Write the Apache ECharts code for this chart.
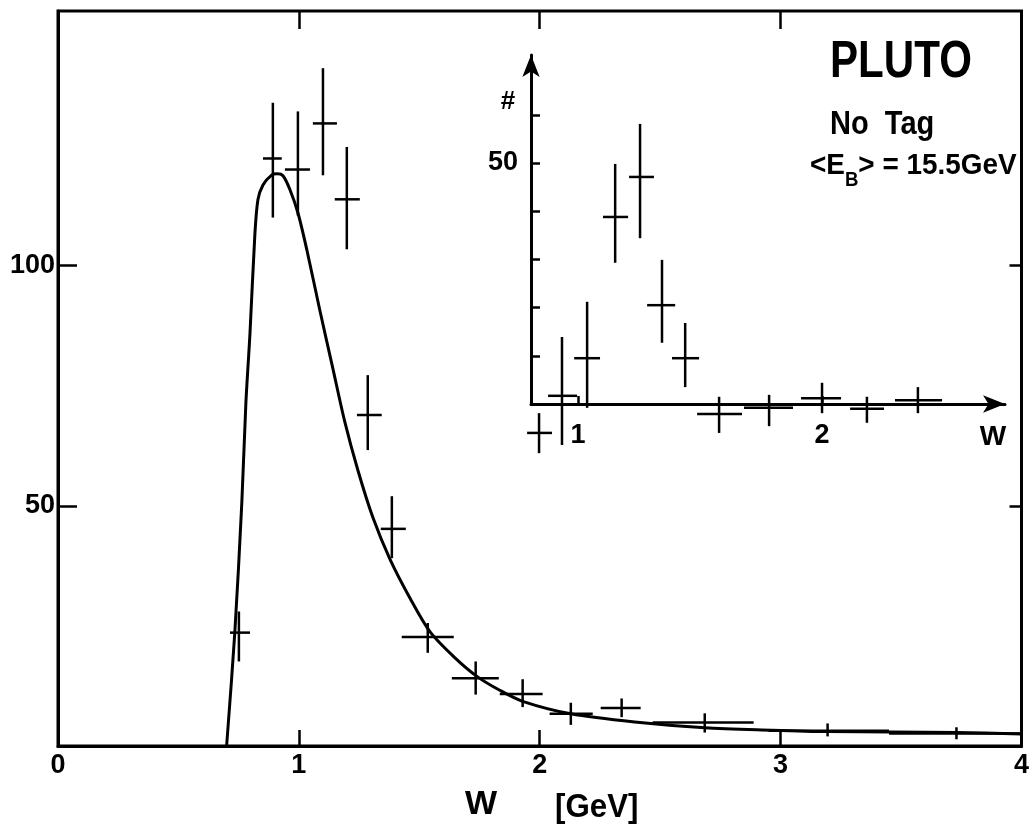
<!DOCTYPE html>
<html>
    <head>
        <meta charset="utf-8" />
        <script src="https://cdn.jsdelivr.net/npm/echarts@6/dist/echarts.min.js"></script>
        <style>
            body { margin: 0; background: #fff; }
        </style>
    </head>
    <body>
        <div id="main" style="width: 1032px; height: 831px"></div>
        <script type="text/javascript">
            // fitted curve (W in GeV, events)
            const curveW = [0.70, 0.734, 0.763, 0.780, 0.797, 0.817, 0.830, 0.851, 0.888, 0.909, 0.934, 0.963, 0.996, 1.033, 1.087, 1.141, 1.191, 1.245, 1.307, 1.378, 1.461, 1.544, 1.647, 1.739, 1.834, 1.929, 2.129, 2.394, 2.685, 2.963, 3.195, 3.730, 4.0];
            const curveN = [0, 23.6, 50.5, 71.4, 85.9, 106.2, 113.7, 116.8, 118.9, 119.1, 118.7, 115.8, 111.0, 103.3, 90.7, 78.6, 67.4, 57.4, 47.6, 38.9, 30.8, 23.8, 18.4, 14.5, 11.6, 9.3, 6.7, 5.0, 3.8, 3.3, 3.0, 2.8, 2.5];

            // main data points with bin width and errors
            const mainW = [0.751, 0.892, 0.996, 1.100, 1.199, 1.286, 1.386, 1.535, 1.734, 1.929, 2.129, 2.340, 2.685, 3.195, 3.730];
            const mainWLo = [0.714, 0.851, 0.942, 1.058, 1.149, 1.241, 1.340, 1.427, 1.635, 1.834, 2.041, 2.253, 2.469, 2.95, 3.45];
            const mainWHi = [0.797, 0.929, 1.046, 1.158, 1.253, 1.344, 1.444, 1.643, 1.830, 2.012, 2.220, 2.419, 2.888, 3.45, 4.0];
            const mainN = [23.6, 122.3, 120.0, 129.6, 113.8, 68.9, 45.2, 22.7, 14.1, 10.8, 6.7, 7.9, 4.9, 3.2, 2.6];
            const mainNLo = [17.6, 110.0, 110.4, 118.8, 103.4, 61.6, 39.1, 19.4, 10.7, 8.1, 4.4, 6.0, 2.8, 2.0, 1.4];
            const mainNHi = [28.0, 133.9, 132.1, 141.1, 124.7, 77.2, 52.0, 25.6, 17.6, 13.9, 9.0, 9.9, 6.8, 4.7, 3.9];

            // inset data points
            const insetW = [0.840, 0.934, 1.037, 1.152, 1.254, 1.344, 1.439, 1.578, 1.783, 2.000, 2.184, 2.393];
            const insetWLo = [0.791, 0.877, 0.984, 1.102, 1.209, 1.283, 1.385, 1.488, 1.680, 1.914, 2.115, 2.299];
            const insetWHi = [0.893, 0.996, 1.090, 1.205, 1.311, 1.398, 1.496, 1.672, 1.881, 2.078, 2.254, 2.492];
            const insetN = [-6.0, 1.7, 9.5, 38.8, 47.1, 20.5, 9.5, -2.1, -0.8, 1.2, -1.0, 0.8];
            const insetNLo = [-10.2, -8.5, -0.8, 29.3, 34.4, 12.7, 3.5, -6.0, -4.6, -1.9, -3.9, -1.9];
            const insetNHi = [-1.9, 13.9, 21.2, 49.8, 58.1, 29.9, 16.8, 1.5, 1.9, 4.4, 1.5, 3.5];

            const mainTicksX = [0, 1, 2, 3, 4];
            const mainTicksY = [50, 100];
            const insetTicksX = [1, 2];
            const insetTicksY = [10, 20, 30, 40, 50, 60];
            const insetLabelsY = [50];

            const font = "Liberation Sans";
            const black = "#000";

            var myChart = echarts.init(document.getElementById("main"));

            function errorBars(params, api) {
                const l = api.coord([api.value(2), api.value(1)]);
                const r = api.coord([api.value(3), api.value(1)]);
                const b = api.coord([api.value(0), api.value(4)]);
                const t = api.coord([api.value(0), api.value(5)]);
                const st = { stroke: black, lineWidth: 2.5 };
                return {
                    type: "group",
                    children: [
                        { type: "line", shape: { x1: l[0], y1: l[1], x2: r[0], y2: r[1] }, style: st },
                        { type: "line", shape: { x1: b[0], y1: b[1], x2: t[0], y2: t[1] }, style: st },
                    ],
                };
            }

            const mainData = mainW.map((w, i) => [w, mainN[i], mainWLo[i], mainWHi[i], mainNLo[i], mainNHi[i]]);
            const insetData = insetW.map((w, i) => [w, insetN[i], insetWLo[i], insetWHi[i], insetNLo[i], insetNHi[i]]);
            const curveData = curveW.map((w, i) => [w, curveN[i]]);

            const tickStyle = { color: black, width: 2.5 };
            const labelStyle = { color: black, fontFamily: font, fontWeight: "bold", fontSize: 27 };

            myChart.setOption({
                animation: false,
                backgroundColor: "#fff",
                grid: [
                    { left: 58, top: 11, width: 964, height: 735, show: true, borderColor: black, borderWidth: 3 },
                    { left: 531, top: 55, width: 474, height: 349 },
                ],
                xAxis: [
                    {
                        type: "value", gridIndex: 0, min: 0, max: 4, interval: 1,
                        axisLine: { onZero: false, lineStyle: { color: black, width: 3 } },
                        axisTick: { inside: true, length: 16, lineStyle: tickStyle, customValues: mainTicksX },
                        axisLabel: Object.assign({ margin: 6, customValues: mainTicksX }, labelStyle),
                        splitLine: { show: false },
                    },
                    {
                        type: "value", gridIndex: 0, position: "top", min: 0, max: 4, interval: 1,
                        axisLine: { show: false, onZero: false },
                        axisTick: { inside: true, length: 18, lineStyle: tickStyle, customValues: [1, 2, 3] },
                        axisLabel: { show: false },
                        splitLine: { show: false },
                    },
                    {
                        type: "value", gridIndex: 1, min: 0.807, max: 2.75,
                        axisLine: { onZero: false, symbol: ["none", "arrow"], symbolSize: [13, 22], lineStyle: { color: black, width: 3 } },
                        axisTick: { inside: true, length: 8, lineStyle: tickStyle, customValues: insetTicksX },
                        axisLabel: Object.assign({ margin: 18, customValues: insetTicksX }, labelStyle),
                        splitLine: { show: false },
                    },
                ],
                yAxis: [
                    {
                        type: "value", gridIndex: 0, min: 0, max: 153, interval: 50,
                        axisLine: { onZero: false, lineStyle: { color: black, width: 3 } },
                        axisTick: { inside: true, length: 19, lineStyle: tickStyle, customValues: mainTicksY },
                        axisLabel: Object.assign({ margin: 3, customValues: mainTicksY }, labelStyle),
                        splitLine: { show: false },
                    },
                    {
                        type: "value", gridIndex: 0, position: "right", min: 0, max: 153, interval: 50,
                        axisLine: { show: false, onZero: false },
                        axisTick: { inside: true, length: 12, lineStyle: tickStyle, customValues: mainTicksY },
                        axisLabel: { show: false },
                        splitLine: { show: false },
                    },
                    {
                        type: "value", gridIndex: 1, min: 0, max: 72.4, interval: 10,
                        axisLine: { onZero: false, symbol: ["none", "arrow"], symbolSize: [13, 22], lineStyle: { color: black, width: 3 } },
                        axisTick: { inside: true, length: 9, lineStyle: tickStyle, customValues: insetTicksY },
                        axisLabel: Object.assign({ margin: 13, customValues: insetLabelsY }, labelStyle),
                        splitLine: { show: false },
                    },
                ],
                series: [
                    {
                        type: "line", xAxisIndex: 0, yAxisIndex: 0,
                        data: curveData, smooth: 0.3, showSymbol: false, symbol: "none",
                        lineStyle: { color: black, width: 3 },
                    },
                    {
                        type: "custom", xAxisIndex: 0, yAxisIndex: 0,
                        data: mainData, renderItem: errorBars,
                        encode: { x: [0, 2, 3], y: [1, 4, 5] },
                    },
                    {
                        type: "custom", xAxisIndex: 2, yAxisIndex: 2,
                        data: insetData, renderItem: errorBars,
                        encode: { x: [0, 2, 3], y: [1, 4, 5] },
                    },
                ],
                graphic: [
                    {
                        type: "text", x: 830, y: 63, scaleX: 0.81,
                        style: { text: "PLUTO", font: 'bold 52px "Liberation Sans"', fill: black, textVerticalAlign: "middle", verticalAlign: "middle" },
                    },
                    {
                        type: "text", x: 830, y: 125, scaleX: 0.88,
                        style: { text: "No  Tag", font: 'bold 33px "Liberation Sans"', fill: black, textVerticalAlign: "middle", verticalAlign: "middle" },
                    },
                    {
                        type: "text", x: 810, y: 166, scaleX: 0.93,
                        style: {
                            text: "<E{s|B}> = 15.5GeV", font: 'bold 30px "Liberation Sans"', fill: black, lineHeight: 48,
                            textVerticalAlign: "middle", verticalAlign: "middle",
                            rich: { s: { fontSize: 20, fontWeight: "bold", fontFamily: font, lineHeight: 20, verticalAlign: "bottom", fill: black } },
                        },
                    },
                    {
                        type: "text", x: 508, y: 102,
                        style: { text: "#", font: 'bold 26px "Liberation Sans"', fill: black, textAlign: "center", align: "center", textVerticalAlign: "middle", verticalAlign: "middle" },
                    },
                    {
                        type: "text", x: 993, y: 437,
                        style: { text: "W", font: 'bold 28px "Liberation Sans"', fill: black, textAlign: "center", align: "center", textVerticalAlign: "middle", verticalAlign: "middle" },
                    },
                    {
                        type: "text", x: 481, y: 805,
                        style: { text: "W", font: 'bold 34px "Liberation Sans"', fill: black, textAlign: "center", align: "center", textVerticalAlign: "middle", verticalAlign: "middle" },
                    },
                    {
                        type: "text", x: 555, y: 808, scaleX: 0.92,
                        style: { text: "[GeV]", font: 'bold 34px "Liberation Sans"', fill: black, textVerticalAlign: "middle", verticalAlign: "middle" },
                    },
                ],
            });
        </script>
    </body>
</html>
